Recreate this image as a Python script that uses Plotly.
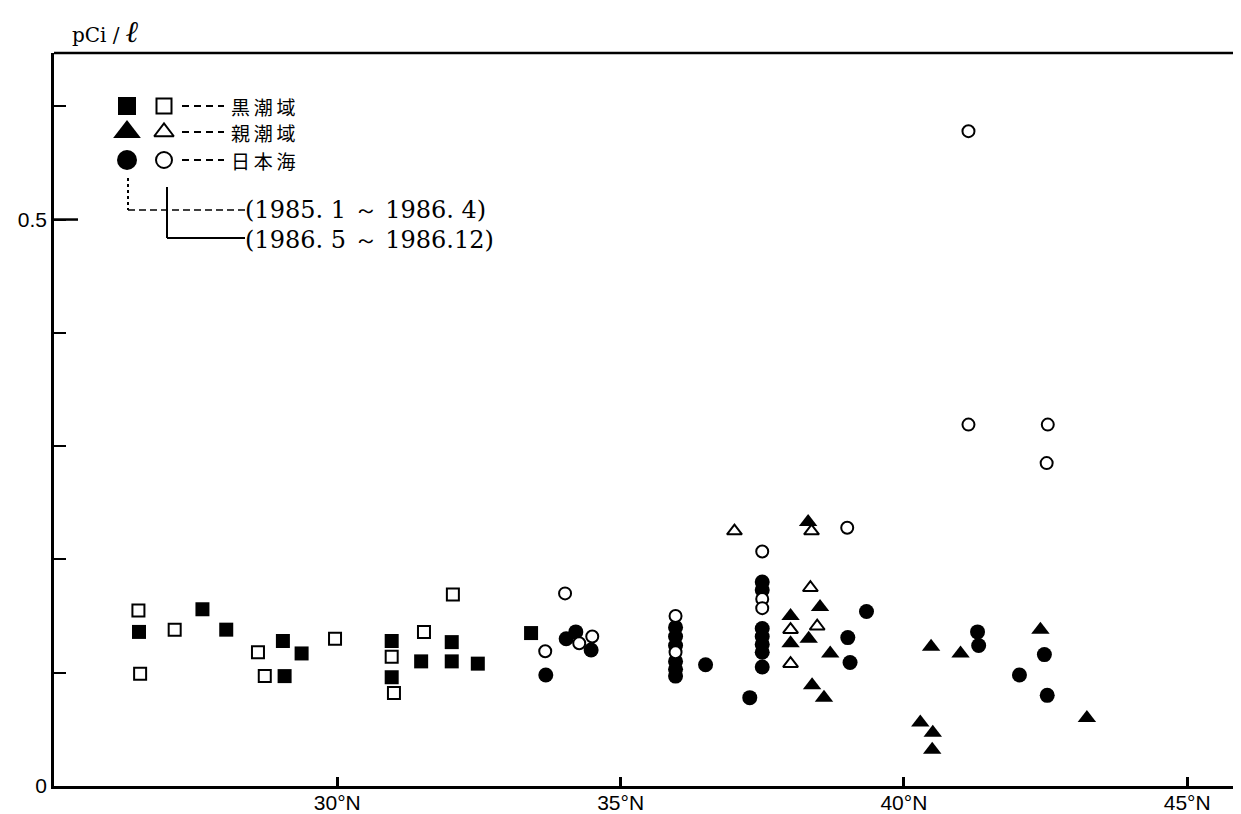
import plotly.graph_objects as go

# ---------------- data (latitude °N, pCi/l) ----------------
kuro_filled_lat = [26.50, 27.62, 28.04, 29.04, 29.37, 29.07, 30.96, 30.96, 31.48, 32.02, 32.02, 32.48, 33.42]
kuro_filled_val = [0.136, 0.156, 0.138, 0.128, 0.117, 0.097, 0.128, 0.096, 0.110, 0.127, 0.110, 0.108, 0.135]

kuro_open_lat = [26.49, 26.52, 27.13, 28.60, 28.72, 29.96, 30.96, 31.00, 31.53, 32.04]
kuro_open_val = [0.155, 0.099, 0.138, 0.118, 0.097, 0.130, 0.114, 0.082, 0.136, 0.169]

oya_filled_lat = [38.31, 38.52, 38.00, 38.00, 38.32, 38.70, 38.38, 38.59, 40.48, 41.00, 42.41, 43.23, 40.29, 40.51, 40.50]
oya_filled_val = [0.233, 0.158, 0.150, 0.126, 0.130, 0.117, 0.089, 0.078, 0.123, 0.117, 0.138, 0.060, 0.056, 0.047, 0.032]

oya_open_lat = [37.01, 38.37, 38.35, 38.47, 38.00, 38.00]
oya_open_val = [0.225, 0.225, 0.175, 0.141, 0.138, 0.108]

jsea_filled_lat = [33.68, 34.04, 34.21, 34.48,
                   35.97, 35.97, 35.97, 35.97, 35.97, 35.97,
                   36.50,
                   37.50, 37.50, 37.50, 37.50, 37.50, 37.50, 37.50,
                   37.28, 39.34, 39.01, 39.05, 41.30, 41.32, 42.48, 42.04, 42.53]
jsea_filled_val = [0.098, 0.130, 0.136, 0.120,
                   0.140, 0.132, 0.124, 0.110, 0.103, 0.097,
                   0.107,
                   0.180, 0.173, 0.139, 0.132, 0.125, 0.118, 0.105,
                   0.078, 0.154, 0.131, 0.109, 0.136, 0.124, 0.116, 0.098, 0.080]

jsea_open_lat = [34.02, 33.67, 34.27, 34.50, 35.97, 35.97, 37.50, 37.50, 37.50, 39.00, 41.14, 41.14, 42.54, 42.52]
jsea_open_val = [0.170, 0.119, 0.126, 0.132, 0.150, 0.118, 0.207, 0.165, 0.157, 0.228, 0.578, 0.319, 0.319, 0.285]

x_tick_vals = [30, 35, 40, 45]
x_tick_text = ["30°N", "35°N", "40°N", "45°N"]
y_tick_vals = [0, 0.1, 0.2, 0.3, 0.4, 0.5, 0.6]
y_tick_text = ["0", "", "", "", "", "0.5", ""]

legend_regions = ["黒\u2009潮\u2009域", "親\u2009潮\u2009域", "日\u2009本\u2009海"]
legend_periods = ["(1985. 1 ～ 1986. 4)", "(1986. 5 ～ 1986.12)"]

# ---------------- figure ----------------
# the page body has an 8 px margin, so the figure is shrunk by that offset
W, H = 1233, 806
L, R, T, B = 46, 0, 45, 28

fig = go.Figure()

def filled(x, y, sym, size):
    return go.Scatter(x=x, y=y, mode="markers", showlegend=False, hoverinfo="x+y",
                      marker=dict(symbol=sym, size=size, color="black", line=dict(width=0)))

def opened(x, y, sym, size):
    return go.Scatter(x=x, y=y, mode="markers", showlegend=False, hoverinfo="x+y",
                      marker=dict(symbol=sym, size=size, color="white",
                                  line=dict(width=2, color="black")))

fig.add_trace(filled(kuro_filled_lat, kuro_filled_val, "square", 14))
fig.add_trace(opened(kuro_open_lat, kuro_open_val, "square", 12))
fig.add_trace(opened(oya_open_lat, oya_open_val, "triangle-up", 13))
fig.add_trace(filled(oya_filled_lat, oya_filled_val, "triangle-up", 16))
fig.add_trace(filled(jsea_filled_lat, jsea_filled_val, "circle", 15))
fig.add_trace(opened(jsea_open_lat, jsea_open_val, "circle", 12))

# ---------------- legend (pixel coordinates on overlay axes) ----------------
row_y = [106, 132, 160]
fill_x, open_x = 127, 164
legend_sym = ["square", "triangle-up", "circle"]
legend_fill_size = [18, 24, 20]
legend_open_size = [15, 17, 16]
for i in range(3):
    fig.add_trace(go.Scatter(x=[fill_x], y=[row_y[i]], xaxis="x2", yaxis="y2", mode="markers",
                             showlegend=False, hoverinfo="skip",
                             marker=dict(symbol=legend_sym[i], size=legend_fill_size[i], color="black")))
    fig.add_trace(go.Scatter(x=[open_x], y=[row_y[i]], xaxis="x2", yaxis="y2", mode="markers",
                             showlegend=False, hoverinfo="skip",
                             marker=dict(symbol=legend_sym[i], size=legend_open_size[i], color="white",
                                         line=dict(width=2, color="black"))))

shapes = []
for i in range(3):
    shapes.append(dict(type="line", xref="x2", yref="y2", x0=182, x1=224, y0=row_y[i], y1=row_y[i],
                       line=dict(color="black", width=2, dash="7px,5px")))
shapes.append(dict(type="line", xref="x2", yref="y2", x0=128, x1=128, y0=178, y1=210,
                   line=dict(color="black", width=2, dash="3px,3px")))
shapes.append(dict(type="line", xref="x2", yref="y2", x0=128, x1=245, y0=210, y1=210,
                   line=dict(color="black", width=1.5, dash="7px,4px")))
shapes.append(dict(type="line", xref="x2", yref="y2", x0=167, x1=167, y0=187, y1=238,
                   line=dict(color="black", width=2)))
shapes.append(dict(type="line", xref="x2", yref="y2", x0=167, x1=245, y0=238, y1=238,
                   line=dict(color="black", width=2)))
shapes.append(dict(type="line", xref="paper", yref="paper", x0=0, x1=1, y0=1, y1=1,
                   line=dict(color="black", width=2.5)))
shapes.append(dict(type="line", xref="x2", yref="y", x0=54, x1=78, y0=0.5, y1=0.5,
                   line=dict(color="black", width=2.5)))

annotations = []
for i in range(3):
    annotations.append(dict(xref="x2", yref="y2", x=229, y=row_y[i], text=legend_regions[i],
                            showarrow=False, xanchor="left", yanchor="middle",
                            font=dict(family="Noto Sans CJK JP", size=19, color="black")))
for j, yy in enumerate([210, 240]):
    annotations.append(dict(xref="x2", yref="y2", x=243, y=yy, text=legend_periods[j],
                            showarrow=False, xanchor="left", yanchor="middle",
                            font=dict(family="DejaVu Serif", size=24, color="black")))
# unit label above the y axis (paper coords)
annotations.append(dict(xref="paper", yref="paper", x=(70 - 54) / (1241 - 54),
                        y=1 + (53 - 31) / (786 - 53),
                        text="pCi / <b><i><span style='font-size:30px'>ℓ</span></i></b>",
                        showarrow=False, xanchor="left", yanchor="middle",
                        font=dict(family="DejaVu Serif", size=20, color="black")))

fig.update_layout(
    width=W, height=H,
    margin=dict(l=L, r=R, t=T, b=B, pad=0, autoexpand=False),
    paper_bgcolor="white", plot_bgcolor="white",
    showlegend=False,
    shapes=shapes, annotations=annotations,
    xaxis=dict(range=[25, 45.95], tickvals=x_tick_vals, ticktext=x_tick_text,
               ticks="inside", ticklen=9, tickwidth=2.5, tickcolor="black",
               showline=True, linewidth=2.5, linecolor="black",
               showgrid=False, zeroline=False, automargin=False,
               ticklabelstandoff=-4,
               tickfont=dict(family="Liberation Sans", size=21, color="black")),
    yaxis=dict(range=[0, 0.647], tickvals=y_tick_vals, ticktext=y_tick_text,
               ticks="inside", ticklen=12, tickwidth=2, tickcolor="black",
               showline=True, linewidth=2.5, linecolor="black",
               showgrid=False, zeroline=False, automargin=False,
               tickfont=dict(family="Liberation Sans", size=21, color="black")),
    xaxis2=dict(overlaying="x", range=[54, 1241], visible=False, fixedrange=True),
    yaxis2=dict(overlaying="y", range=[786, 53], visible=False, fixedrange=True),
)

fig.write_html("out.html")
